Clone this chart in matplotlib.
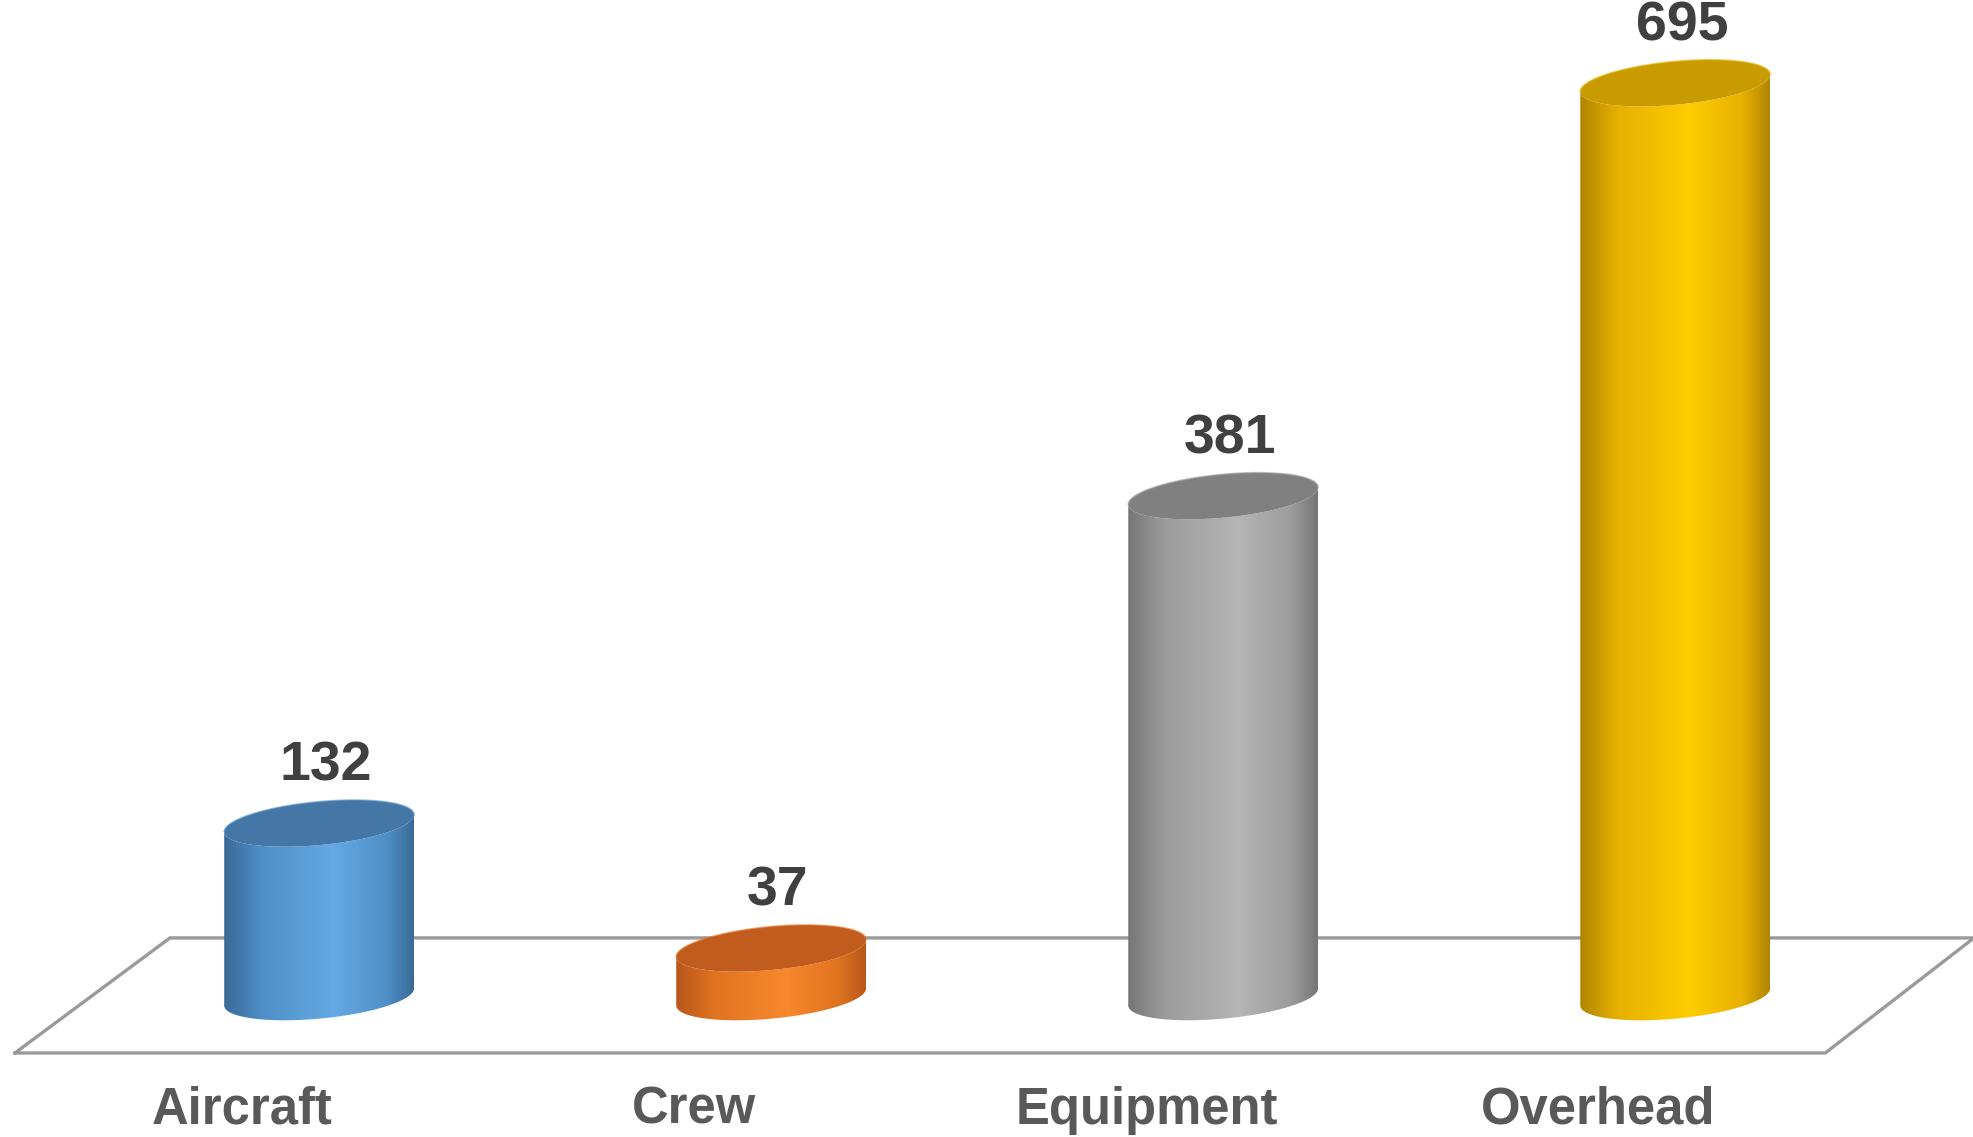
import numpy as np
import matplotlib.pyplot as plt
from matplotlib.colors import to_rgb
from matplotlib.patches import Polygon

categories = ['Aircraft', 'Crew', 'Equipment', 'Overhead']
values = [132, 37, 381, 695]

# side gradient: edge, mid, highlight ; top face colour
side_dark = ['#3a6a96', '#b8561c', '#767676', '#b08600']
side_mid = ['#4f8fc8', '#e0731f', '#9c9c9c', '#e8b000']
side_light = ['#64a9e4', '#f7882e', '#b5b5b5', '#ffcc00']
top_col = ['#4577a6', '#c25b1e', '#808080', '#c89b00']

plt.rcParams['font.family'] = ['Liberation Sans', 'DejaVu Sans']

fig = plt.figure(figsize=(19.74, 11.37), dpi=100)
ax = fig.add_axes([0, 0, 1, 1])
ax.set_xlim(-0.706, 3.661)
ax.set_ylim(-106.5, 758.2)
ax.axis('off')

# floor
floor_x = [-0.673, 3.332, 3.661, -0.330, -0.673]
floor_y = [-42.6, -42.6, 44.9, 44.9, -42.6]
ax.plot(floor_x, floor_y, color='#9a9a9a', lw=2.4, zorder=1, solid_joinstyle='miter')

a = 0.210   # half width (category units)
b = 16.5    # ellipse minor half axis (value units)
s = 6.5     # tilt


def grad_img(i, n=200):
    t = np.linspace(0, 1, n)
    stops = [0.0, 0.2, 0.58, 0.86, 1.0]
    cols = [side_dark[i], side_mid[i], side_light[i], side_mid[i], side_dark[i]]
    rgb = np.array([to_rgb(c) for c in cols])
    img = np.zeros((1, n, 3))
    for k in range(3):
        img[0, :, k] = np.interp(t, stops, rgb[:, k])
    return img


for i, v in enumerate(values):
    cx = i
    t_lo = np.linspace(np.pi, 2 * np.pi, 80)
    t_all = np.linspace(0, 2 * np.pi, 160)
    # body: bottom front arc, then top front arc back
    bx = cx + a * np.cos(t_lo)
    by = 0 + b * np.sin(t_lo) + s * np.cos(t_lo)
    tx = (cx + a * np.cos(t_lo))[::-1]
    ty = (v + b * np.sin(t_lo) + s * np.cos(t_lo))[::-1]
    px = np.concatenate([bx, tx])
    py = np.concatenate([by, ty])
    body = Polygon(np.column_stack([px, py]), closed=True, facecolor='none', edgecolor='none')
    ax.add_patch(body)
    im = ax.imshow(grad_img(i), extent=(cx - a, cx + a, -b - s - 2, v + b + s + 2),
                   aspect='auto', zorder=2, interpolation='bilinear')
    im.set_clip_path(body)
    # top face
    ex = cx + a * np.cos(t_all)
    ey = v + b * np.sin(t_all) + s * np.cos(t_all)
    ax.fill(ex, ey, color=top_col[i], zorder=3, lw=0)
    ax.plot(ex[:80], ey[:80], color=side_mid[i], lw=1.2, alpha=0.6, zorder=3)

    ax.text(cx + 0.015, v + 43, str(v), ha='center', va='center', fontsize=40,
            fontweight='bold', color='#404040', zorder=4)
    ax.text(cx - 0.17, -86, categories[i], ha='center', va='center', fontsize=36.5,
            fontweight='bold', color='#595959', zorder=4)

fig.savefig('out.png', dpi=100)
